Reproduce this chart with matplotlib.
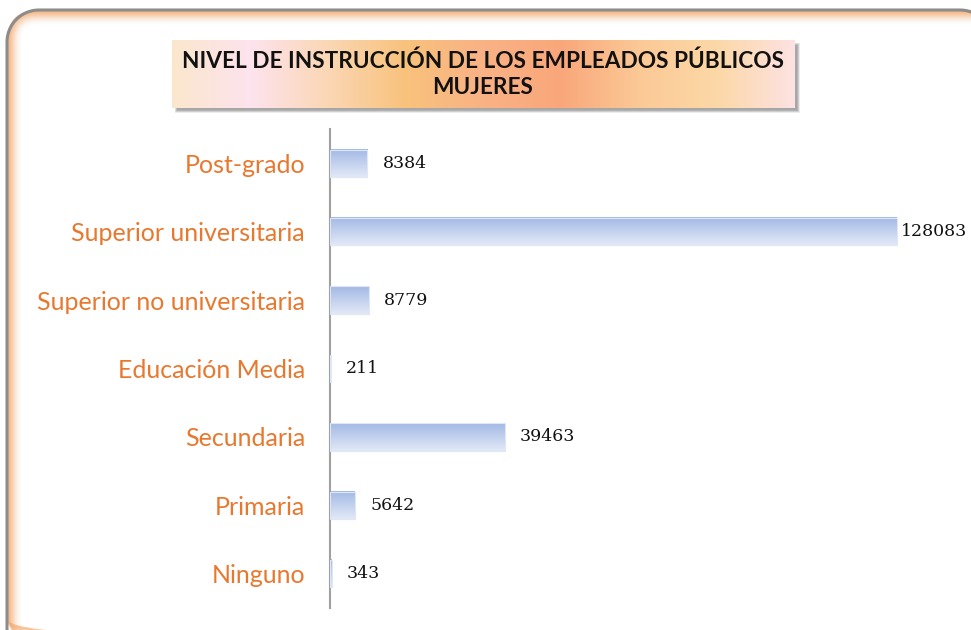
import matplotlib.pyplot as plt
import numpy as np
from matplotlib.patches import FancyBboxPatch, Rectangle
from matplotlib.colors import LinearSegmentedColormap, to_rgb

categories = ['Post-grado', 'Superior universitaria', 'Superior no universitaria',
              'Educación Media', 'Secundaria', 'Primaria', 'Ninguno']
values = [8384, 128083, 8779, 211, 39463, 5642, 343]
title = 'NIVEL DE INSTRUCCIÓN DE LOS EMPLEADOS PÚBLICOS\nMUJERES'

W, H = 971, 630
fig = plt.figure(figsize=(W / 100, H / 100), dpi=100)
fig.patch.set_facecolor('white')

# background axes in pixel coordinates for the frame and title box
bg = fig.add_axes([0, 0, 1, 1])
bg.axis('off')

# orange inner glow along the left and top of the rounded frame
for i in range(14):
    a = 0.6 * (1 - i / 14) ** 2
    bg.add_patch(FancyBboxPatch((8 + i, 11 + i), 1100, 640,
                                boxstyle='round,pad=0,rounding_size=%d' % max(30 - i, 4),
                                fc='none', ec=(0.96, 0.66, 0.42, a), lw=1.6))

# grey frame: left side, top-left corner, top edge, top-right corner going off the picture
r = 32
t1 = np.linspace(np.pi, 1.5 * np.pi, 30)
t2 = np.linspace(1.5 * np.pi, 2 * np.pi, 30)
fx = np.concatenate([[7], 7 + r + r * np.cos(t1), 960 + r * np.cos(t2), [992]])
fy = np.concatenate([[631], 10 + r + r * np.sin(t1), 10 + r + r * np.sin(t2), [631]])
bg.plot(fx, fy, color='#8c8c8c', lw=2.2, solid_capstyle='round')

# title box shadow
for i in range(6):
    bg.add_patch(Rectangle((175 + i * 0.4, 43 + i * 0.4), 625 - i, 70 - i,
                           fc=(0.15, 0.15, 0.15, 0.08), ec='none'))
# title gradient
stops = ['#fbe7cd', '#fde3ee', '#fbd7b4', '#f8c27c', '#f9b285', '#f9a77a',
         '#fbc996', '#fcd8a6', '#fde2e2']
cmap = LinearSegmentedColormap.from_list('t', [to_rgb(c) for c in stops])
grad = np.linspace(0, 1, 256).reshape(1, -1)
bg.imshow(grad, cmap=cmap, extent=(172, 795, 108, 40), aspect='auto', zorder=3)
bg.set_xlim(0, W)
bg.set_ylim(H, 0)
bg.text(483, 74, title, ha='center', va='center', fontsize=16.3, family='Lato',
        fontweight='bold', color='#111111', linespacing=1.3, zorder=4)

# bar chart
ax = fig.add_axes([330 / W, 22 / H, (W - 330) / W, 479 / H])
y = np.arange(len(categories))

bar_cmap = LinearSegmentedColormap.from_list('b', ['#a3b9e5', '#e2e9f7'])
vgrad = np.linspace(0, 1, 64).reshape(-1, 1)
h = 0.4
for yi, v in zip(y, values):
    ax.imshow(vgrad, cmap=bar_cmap, extent=(0, v, yi + h / 2, yi - h / 2),
              aspect='auto', zorder=2)
    ax.add_patch(Rectangle((0, yi - h / 2), v, h, fc='none', ec='#dfe6f5', lw=0.8, zorder=3))
    off = 3 if v == max(values) else 11
    ax.annotate(str(v), (v, yi), xytext=(off, 0), textcoords='offset points',
                ha='left', va='center', fontsize=12.5, family='DejaVu Serif', color='#111111')

ax.set_ylim(len(categories) - 0.5, -0.5)
ax.set_xlim(0, 144800)
ax.patch.set_alpha(0)
ax.set_yticks(y)
ax.set_yticklabels(categories, fontsize=18, family='Lato', color='#e8782e')
ax.tick_params(axis='y', length=0, pad=18)
ax.set_xticks([])
for s in ['top', 'right', 'bottom']:
    ax.spines[s].set_visible(False)
ax.spines['left'].set_color('#a0a0a0')
ax.spines['left'].set_linewidth(1.5)

fig.savefig('out.png', dpi=100)
